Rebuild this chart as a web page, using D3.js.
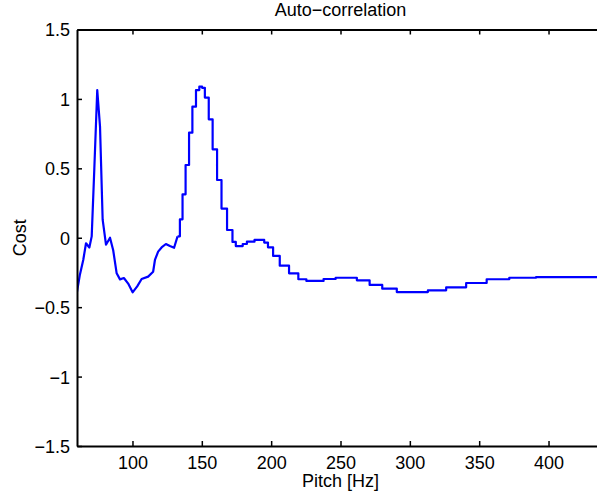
<!DOCTYPE html>
<html>
<head>
<meta charset="utf-8">
<script src="https://cdn.jsdelivr.net/npm/d3@7"></script>
<style>
  body { margin: 0; background: #fff; }
  text { font-family: "Liberation Sans", Arial, Helvetica, sans-serif; fill: #000; }
</style>
</head>
<body>
<svg id="chart" width="597" height="497"></svg>
<script>
// smooth low-pitch part [Hz, cost]
const smoothPitch = [60, 62, 64.5, 66.5, 68.9, 70.6, 72.5, 74.6, 76.6, 78.5, 80.9, 83.8, 86.1, 88.6, 91, 93.8, 96.9, 100.1, 103.4, 106.6, 111.3, 114.9, 116.2, 118.5, 121, 124.1, 127, 130, 132.5];
const smoothCost  = [-0.39, -0.27, -0.16, -0.04, -0.07, 0.01, 0.5, 1.064, 0.80, 0.13, -0.05, 0.0, -0.09, -0.256, -0.30, -0.29, -0.33, -0.393, -0.35, -0.297, -0.28, -0.245, -0.16, -0.10, -0.07, -0.045, -0.06, -0.072, 0.01];

// stepped high-pitch part: level start [Hz] and level value
const stepPitch = [132.5, 134.2, 136.1, 138.3, 140.8, 143.2, 145.8, 148.2, 150.2, 152.2, 155.0, 157.8, 161.0, 164.2, 168.2, 172.1, 174.5, 179.5, 182.5, 188.0, 195.0, 197.7, 201.4, 206.2, 212.9, 219.6, 225.4, 237.8, 246.5, 261.8, 271.0, 280.1, 290.6, 313.0, 326.2, 340.6, 355.4, 371.7, 391.0, 440];
const stepCost  = [0.01, 0.133, 0.313, 0.524, 0.757, 0.944, 1.064, 1.088, 1.08, 1.01, 0.853, 0.637, 0.416, 0.21, 0.056, -0.03, -0.06, -0.045, -0.028, -0.016, -0.035, -0.069, -0.131, -0.201, -0.256, -0.299, -0.311, -0.297, -0.288, -0.307, -0.34, -0.367, -0.391, -0.379, -0.357, -0.326, -0.299, -0.288, -0.283, -0.283];

const xTicks = [100, 150, 200, 250, 300, 350, 400];
const yTicks = [-1.5, -1, -0.5, 0, 0.5, 1, 1.5];

const svg = d3.select('#chart');
const m = { left: 77, right: 604, top: 29.5, bottom: 446 };

const x = d3.scaleLinear().domain([60, 440]).range([m.left, m.right]);
const y = d3.scaleLinear().domain([-1.5, 1.5]).range([m.bottom, m.top]);

const fmt = v => String(v).replace('-', '\u2212');

svg.append('clipPath').attr('id', 'clip')
    .append('rect').attr('x', m.left).attr('y', m.top)
    .attr('width', m.right - m.left).attr('height', m.bottom - m.top);

const plot = svg.append('g').attr('clip-path', 'url(#clip)');

const line = d3.line().x(d => x(d[0])).y(d => y(d[1]));

plot.append('path')
    .datum(smoothPitch.map((p, i) => [p, smoothCost[i]]))
    .attr('d', line)
    .attr('fill', 'none')
    .attr('stroke', '#0000ff')
    .attr('stroke-width', 2.2)
    .attr('stroke-linejoin', 'round');

plot.append('path')
    .datum(stepPitch.map((p, i) => [p, stepCost[i]]))
    .attr('d', line.curve(d3.curveStepAfter))
    .attr('fill', 'none')
    .attr('stroke', '#0000ff')
    .attr('stroke-width', 2.2)
    .attr('stroke-linejoin', 'round');

// axes: MATLAB style box, ticks inward
const axisBottom = d3.axisBottom(x).tickValues(xTicks).tickSizeInner(-5).tickSizeOuter(0).tickPadding(10).tickFormat(fmt);
const axisTop = d3.axisTop(x).tickValues(xTicks).tickSizeInner(-5).tickSizeOuter(0).tickFormat('');
const axisLeft = d3.axisLeft(y).tickValues(yTicks).tickSizeInner(-5).tickSizeOuter(0).tickPadding(7).tickFormat(fmt);

const gb = svg.append('g').attr('transform', `translate(0,${m.bottom})`).call(axisBottom);
const gt = svg.append('g').attr('transform', `translate(0,${m.top})`).call(axisTop);
const gl = svg.append('g').attr('transform', `translate(${m.left},0)`).call(axisLeft);

[gb, gt, gl].forEach(g => {
    g.select('.domain').attr('stroke', '#000').attr('stroke-width', 2);
    g.selectAll('.tick line').attr('stroke', '#000').attr('stroke-width', 1.5);
    g.selectAll('.tick text').style('font-size', '18px').attr('font-family', null);
});
gl.selectAll('.tick text').attr('dy', '0.36em');

svg.append('text')
    .attr('x', (m.left + m.right) / 2).attr('y', 16)
    .attr('text-anchor', 'middle')
    .style('font-size', '18px')
    .text('Auto\u2212correlation');

svg.append('text')
    .attr('x', (m.left + m.right) / 2).attr('y', 487)
    .attr('text-anchor', 'middle')
    .style('font-size', '18px')
    .text('Pitch [Hz]');

svg.append('text')
    .attr('transform', `translate(26,${(m.top + m.bottom) / 2}) rotate(-90)`)
    .attr('text-anchor', 'middle')
    .style('font-size', '18px')
    .text('Cost');
</script>
</body>
</html>
